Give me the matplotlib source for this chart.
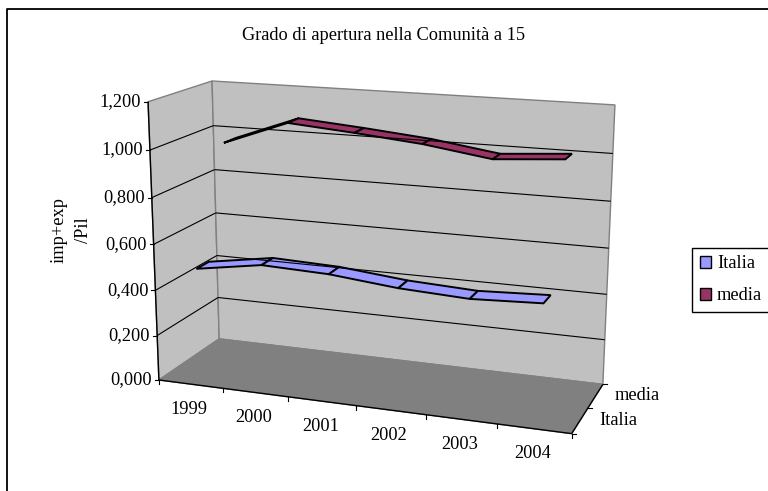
import numpy as np
from matplotlib import pyplot as plt
from matplotlib.patches import Patch

plt.rcParams['font.family'] = ['Liberation Serif', 'DejaVu Serif']

title = 'Grado di apertura nella Comunità a 15'
years = ['1999', '2000', '2001', '2002', '2003', '2004']
series_names = ['Italia', 'media']
italia = [0.485, 0.530, 0.520, 0.491, 0.477, 0.490]
media = [0.970, 1.076, 1.053, 1.026, 0.984, 1.005]
value_ticks = [0.0, 0.2, 0.4, 0.6, 0.8, 1.0, 1.2]

FS = 13.2

# box corners -> picture pixels, the projection is solved from these
known = [
    ((0, 0, 0), (159, 380)), ((6, 0, 0), (571.5, 434)),
    ((0, 0, 2), (219, 339)), ((6, 0, 2), (603, 384)),
    ((0, 1.2, 0), (148, 101.7)), ((0, 1.2, 2), (212, 81)),
    ((6, 1.2, 2), (615, 105)), ((0, 0.4, 2), (217, 255.7)),
    ((6, 0.4, 2), (606.7, 294.3)), ((0, 0.4, 0), (155.5, 290)),
]
A, b = [], []
for (x, v, d), (px, py) in known:
    A.append([x, v, d, 1, 0, 0, 0, 0, -px * x, -px * v, -px * d])
    A.append([0, 0, 0, 0, x, v, d, 1, -py * x, -py * v, -py * d])
    b += [px, py]
sol = np.linalg.lstsq(np.array(A, float), np.array(b, float), rcond=None)[0]
P = np.append(sol, 1).reshape(3, 4)


def project(x, v, d):
    h = P @ np.array([x, v, d, 1.0])
    return h[0] / h[2], h[1] / h[2]


fig = plt.figure(figsize=(7.68, 4.91), dpi=100)
ax = fig.add_axes([0, 0, 1, 1])
ax.set_xlim(0, 768)
ax.set_ylim(491, 0)
ax.axis('off')


def quad(points, **kw):
    ax.fill(*zip(*[project(*p) for p in points]), **kw)


def seg(p, q, **kw):
    a, c = project(*p), project(*q)
    ax.plot([a[0], c[0]], [a[1], c[1]], solid_capstyle='butt', **kw)


# chart frame, only top and left are inside the picture
ax.plot([768, 6.5, 6.5], [8.5, 8.5, 491], color='black', lw=1.3)

# walls and floor
quad([(0, 0, 0), (0, 1.2, 0), (0, 1.2, 2), (0, 0, 2)], fc='#c0c0c0', ec='#808080', lw=1)
quad([(0, 0, 2), (0, 1.2, 2), (6, 1.2, 2), (6, 0, 2)], fc='#c0c0c0', ec='#808080', lw=1)
quad([(0, 0, 0), (6, 0, 0), (6, 0, 2), (0, 0, 2)], fc='#808080', ec='#808080', lw=1)

for v in value_ticks[1:-1]:
    seg((0, v, 0), (0, v, 2), color='black', lw=0.8)
    seg((0, v, 2), (6, v, 2), color='black', lw=0.8)

# axes lines
seg((0, 0, 0), (0, 1.2, 0), color='black', lw=1)
seg((0, 0, 0), (6, 0, 0), color='black', lw=1)
seg((6, 0, 0), (6, 0, 2), color='black', lw=1)

for v in value_ticks:
    px, py = project(0, v, 0)
    ax.plot([px - 4, px], [py, py], color='black', lw=0.8)
    ax.text(px - 7, py, f'{v:.3f}'.replace('.', ','), ha='right', va='center', fontsize=FS)

for i in range(7):
    px, py = project(i, 0, 0)
    ax.plot([px, px], [py, py + 4], color='black', lw=0.8)
for i, year in enumerate(years):
    px, py = project(i + 0.5, 0, 0)
    ax.text(px - 1.5, py + 25, year, ha='center', va='center', fontsize=FS)

for i in range(3):
    px, py = project(6, 0, i)
    ax.plot([px, px + 4], [py, py], color='black', lw=0.8)
for i, name in enumerate(series_names):
    px, py = project(6, 0, i + 0.5)
    ax.text(px + 19, py, name, ha='left', va='center', fontsize=FS)

# ribbons, front series first
half = 0.2
colors = ['#9999ff', '#993366']
for k, vals in enumerate([italia, media]):
    d = k + 0.5
    for i in range(len(vals) - 1):
        quad([(i + 0.5, vals[i], d - half), (i + 1.5, vals[i + 1], d - half),
              (i + 1.5, vals[i + 1], d + half), (i + 0.5, vals[i], d + half)],
             fc=colors[k], ec='black', lw=1.4, joinstyle='miter')

ax.text(384, 35, title, ha='center', va='center', fontsize=FS)
ax.text(71, 230, 'imp+exp\n/Pil', rotation=90, ha='center', va='center', ma='center',
        fontsize=FS, linespacing=1.6)

handles = [Patch(fc=colors[0], ec='black'), Patch(fc=colors[1], ec='black')]
ax.legend(handles, series_names, loc='upper left', bbox_to_anchor=(692.3, 247.5),
          bbox_transform=ax.transData, borderaxespad=0, fancybox=False, framealpha=1,
          edgecolor='black', fontsize=FS, handlelength=0.6, handleheight=0.6,
          handletextpad=0.33, labelspacing=0.82, borderpad=0.42)

fig.savefig('out.png', dpi=100)
